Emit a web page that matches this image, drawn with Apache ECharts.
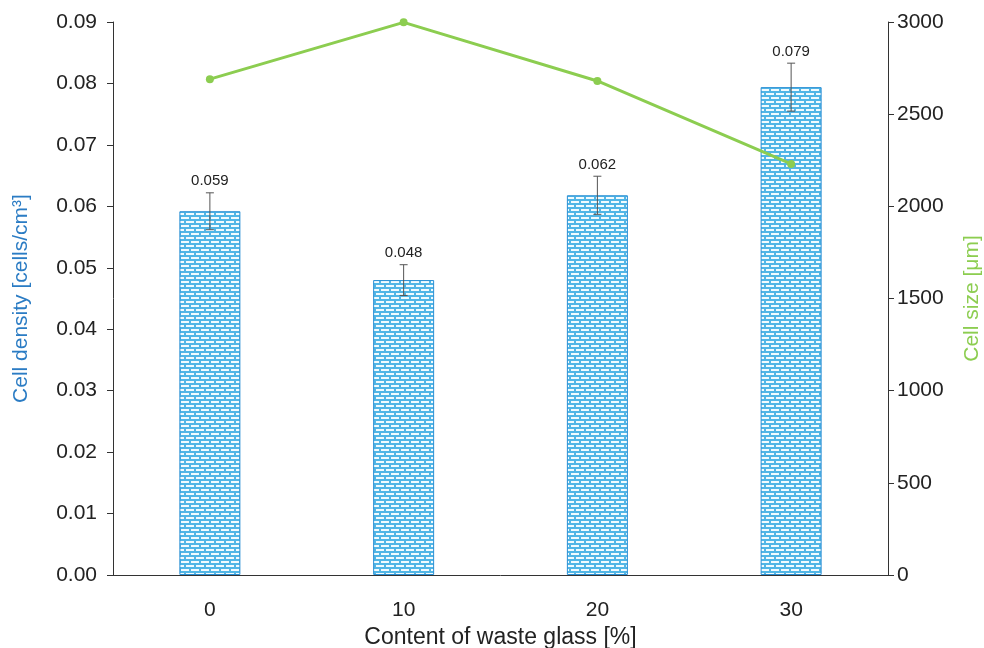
<!DOCTYPE html>
<html><head><meta charset="utf-8">
<script src="https://cdn.jsdelivr.net/npm/echarts@6/dist/echarts.min.js"></script>
<style>html,body{margin:0;padding:0;background:#fff}#c{width:984px;height:648px}</style>
</head><body><div id="c"></div>
<script>
const categories = ['0', '10', '20', '30'];
const cellDensity = [0.0592, 0.0480, 0.0618, 0.0794];
const densityErr = [0.0030, 0.0025, 0.0031, 0.0039];
const densityLabels = ['0.059', '0.048', '0.062', '0.079'];
const cellSize = [2690, 2998, 2680, 2230];

function brickPattern() {
  const c = document.createElement('canvas');
  c.width = 10; c.height = 8;
  const g = c.getContext('2d');
  g.fillStyle = '#52b6e6';
  g.fillRect(0, 0, 10, 8);
  g.fillStyle = '#f2fbfe';
  g.fillRect(1, 1, 8, 2);
  g.fillRect(6, 5, 8, 2);
  g.fillRect(0, 5, 4, 2);
  return c;
}

const chart = echarts.init(document.getElementById('c'));
const font = 'Arial, "Liberation Sans", sans-serif';
chart.setOption({
  animation: false,
  grid: { left: 113, right: 96, top: 22, bottom: 73, outerBoundsMode: 'none' },
  xAxis: {
    type: 'category', data: categories,
    name: 'Content of waste glass [%]', nameLocation: 'middle', nameGap: 51,
    nameTextStyle: { fontSize: 23, color: '#222', fontFamily: font },
    axisLine: { lineStyle: { color: '#333', width: 1 } },
    axisTick: { show: false },
    axisLabel: { fontSize: 21, color: '#222', fontFamily: font, margin: 25 }
  },
  yAxis: [{
    type: 'value', min: 0, max: 0.09, interval: 0.01,
    name: 'Cell density [cells/cm³]', nameLocation: 'middle', nameGap: 81,
    nameTextStyle: { fontSize: 21, color: '#2b7cc4', fontFamily: font },
    axisLine: { show: true, lineStyle: { color: '#333' } },
    axisTick: { show: true, length: 6, lineStyle: { color: '#333' } },
    splitLine: { show: false },
    axisLabel: { fontSize: 21, color: '#222', fontFamily: font, margin: 16,
      formatter: v => v.toFixed(2) }
  }, {
    type: 'value', min: 0, max: 3000, interval: 500,
    name: 'Cell size [μm]', nameLocation: 'middle', nameGap: 74, nameRotate: 90,
    nameTextStyle: { fontSize: 21, color: '#8ccd50', fontFamily: font },
    axisLine: { show: true, lineStyle: { color: '#333' } },
    axisTick: { show: true, length: 6, lineStyle: { color: '#333' } },
    splitLine: { show: false },
    axisLabel: { fontSize: 21, color: '#222', fontFamily: font, margin: 9,
      formatter: v => String(v) }
  }],
  series: [{
    type: 'bar', data: cellDensity, barWidth: 61, yAxisIndex: 0,
    itemStyle: { color: { image: brickPattern(), repeat: 'repeat' }, borderColor: '#2b8fd4', borderWidth: 1 }
  }, {
    type: 'custom', yAxisIndex: 0, z: 5,
    data: cellDensity.map((v, i) => [i, v, densityErr[i]]),
    renderItem: function (params, api) {
      const x = api.coord([api.value(0), 0])[0];
      const v = api.value(1), e = api.value(2);
      const top = api.coord([api.value(0), v + e])[1];
      const bot = api.coord([api.value(0), v - e])[1];
      const w = 4;
      const st = { stroke: '#555', lineWidth: 1 };
      return { type: 'group', children: [
        { type: 'line', shape: { x1: x, y1: top, x2: x, y2: bot }, style: st },
        { type: 'line', shape: { x1: x - w, y1: top, x2: x + w, y2: top }, style: st },
        { type: 'line', shape: { x1: x - w, y1: bot, x2: x + w, y2: bot }, style: st },
        { type: 'text', style: { text: densityLabels[params.dataIndex], x: x, y: top - 4,
          textAlign: 'center', textVerticalAlign: 'bottom', fontSize: 15, fill: '#222', fontFamily: font } }
      ]};
    }
  }, {
    type: 'line', data: cellSize, yAxisIndex: 1, z: 10,
    lineStyle: { color: '#8ccd50', width: 3 },
    itemStyle: { color: '#8ccd50' },
    symbol: 'circle', symbolSize: 8
  }]
});
</script></body></html>
